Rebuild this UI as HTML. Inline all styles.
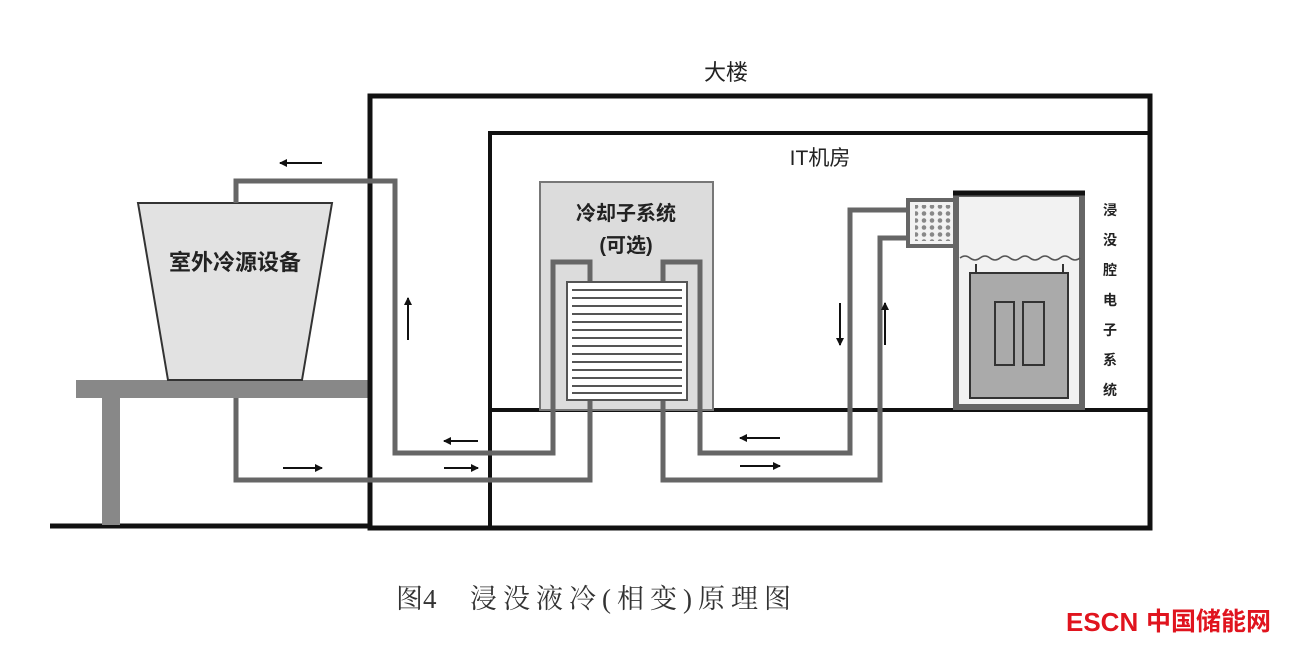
<!DOCTYPE html>
<html><head><meta charset="utf-8"><style>
body{margin:0;background:#fff}
svg text{font-family:"Liberation Sans","Noto Sans CJK SC",sans-serif}
svg text.cap{font-family:"Liberation Serif","Noto Serif CJK SC",serif}
</style></head><body>
<svg width="1299" height="649" viewBox="0 0 1299 649" xmlns="http://www.w3.org/2000/svg">
<defs>
<marker id="ah" markerWidth="8" markerHeight="8" refX="7" refY="4" orient="auto" markerUnits="userSpaceOnUse"><path d="M0,0 L8,4 L0,8 Z" fill="#111"/></marker>
<pattern id="dots" width="8" height="7" patternUnits="userSpaceOnUse"><circle cx="4" cy="3.5" r="2.3" fill="#888"/></pattern>
</defs>
<rect width="1299" height="649" fill="#fff"/>
<line x1="50" y1="526" x2="372" y2="526" stroke="#111" stroke-width="5"/>
<rect x="102" y="396" width="18" height="129" fill="#888"/>
<rect x="76" y="380" width="292" height="18" fill="#888"/>
<polygon points="138,203 332,203 302,380 168,380" fill="#e2e2e2" stroke="#333" stroke-width="2"/>
<text x="235" y="270" font-size="22" font-weight="bold" text-anchor="middle" fill="#222">室外冷源设备</text>
<rect x="370" y="96" width="780" height="432" fill="none" stroke="#111" stroke-width="5"/>
<polyline points="1148,133 490,133 490,528" fill="none" stroke="#111" stroke-width="4"/>
<line x1="490" y1="410" x2="1148" y2="410" stroke="#111" stroke-width="4"/>
<text x="726" y="80" font-size="22" text-anchor="middle" fill="#222">大楼</text>
<text x="820" y="165" font-size="21" text-anchor="middle" fill="#222">IT机房</text>
<rect x="540" y="182" width="173" height="228" fill="#dcdcdc" stroke="#777" stroke-width="2"/>
<text x="626" y="220" font-size="20" font-weight="bold" text-anchor="middle" fill="#222">冷却子系统</text>
<text x="626" y="252" font-size="20" font-weight="bold" text-anchor="middle" fill="#222">(可选)</text>
<g fill="none" stroke="#666" stroke-width="5">
<polyline points="236,203 236,181 395,181 395,453 553,453 553,262 590,262 590,284"/>
<polyline points="236,398 236,480 590,480 590,398"/>
<polyline points="663,284 663,262 700,262 700,453 850,453 850,210 910,210"/>
<polyline points="663,398 663,480 880,480 880,238 910,238"/>
</g>
<rect x="567" y="282" width="120" height="118" fill="#fff" stroke="#555" stroke-width="2"/>
<g stroke="#555" stroke-width="2">
<line x1="572" y1="290" x2="682" y2="290"/><line x1="572" y1="298" x2="682" y2="298"/><line x1="572" y1="306" x2="682" y2="306"/><line x1="572" y1="314" x2="682" y2="314"/><line x1="572" y1="322" x2="682" y2="322"/><line x1="572" y1="330" x2="682" y2="330"/><line x1="572" y1="338" x2="682" y2="338"/><line x1="572" y1="346" x2="682" y2="346"/><line x1="572" y1="354" x2="682" y2="354"/><line x1="572" y1="362" x2="682" y2="362"/><line x1="572" y1="370" x2="682" y2="370"/><line x1="572" y1="378" x2="682" y2="378"/><line x1="572" y1="386" x2="682" y2="386"/><line x1="572" y1="393" x2="682" y2="393"/>
</g>
<rect x="956" y="194" width="126" height="213" fill="#f2f2f2" stroke="#666" stroke-width="6"/>
<line x1="953" y1="193" x2="1085" y2="193" stroke="#111" stroke-width="5"/>
<path d="M960,258 q5,-4 10,0 t10,0 t10,0 t10,0 t10,0 t10,0 t10,0 t10,0 t10,0 t10,0 t10,0 t10,0" fill="none" stroke="#555" stroke-width="1.5"/>
<rect x="908" y="200" width="47" height="46" fill="#f2f2f2" stroke="#666" stroke-width="4"/>
<rect x="915" y="205" width="36" height="36" fill="url(#dots)"/>
<line x1="976" y1="264" x2="976" y2="273" stroke="#333" stroke-width="2"/>
<line x1="1063" y1="264" x2="1063" y2="273" stroke="#333" stroke-width="2"/>
<rect x="970" y="273" width="98" height="125" fill="#aaa" stroke="#333" stroke-width="2"/>
<rect x="995" y="302" width="19" height="63" fill="#aaa" stroke="#333" stroke-width="2"/>
<rect x="1023" y="302" width="21" height="63" fill="#aaa" stroke="#333" stroke-width="2"/>
<g font-size="14" font-weight="bold" text-anchor="middle" fill="#222">
<text x="1110" y="215">浸</text><text x="1110" y="245">没</text><text x="1110" y="275">腔</text><text x="1110" y="305">电</text><text x="1110" y="335">子</text><text x="1110" y="365">系</text><text x="1110" y="395">统</text>
</g>
<g stroke="#111" stroke-width="2" marker-end="url(#ah)">
<line x1="322" y1="163" x2="280" y2="163"/>
<line x1="408" y1="340" x2="408" y2="298"/>
<line x1="478" y1="441" x2="444" y2="441"/>
<line x1="444" y1="468" x2="478" y2="468"/>
<line x1="283" y1="468" x2="322" y2="468"/>
<line x1="780" y1="438" x2="740" y2="438"/>
<line x1="740" y1="466" x2="780" y2="466"/>
<line x1="840" y1="303" x2="840" y2="345"/>
<line x1="885" y1="345" x2="885" y2="303"/>
</g>
<text class="cap" x="396" y="608" font-size="27" fill="#333">图4</text>
<text class="cap" x="470" y="608" font-size="27" fill="#333" letter-spacing="6">浸没液冷(相变)原理图</text>
<text x="1066" y="631" font-size="26" font-weight="bold" fill="#e0141e">ESCN</text>
<text x="1146" y="630" font-size="25" font-weight="bold" fill="#e0141e">中国储能网</text>
</svg>
</body></html>
